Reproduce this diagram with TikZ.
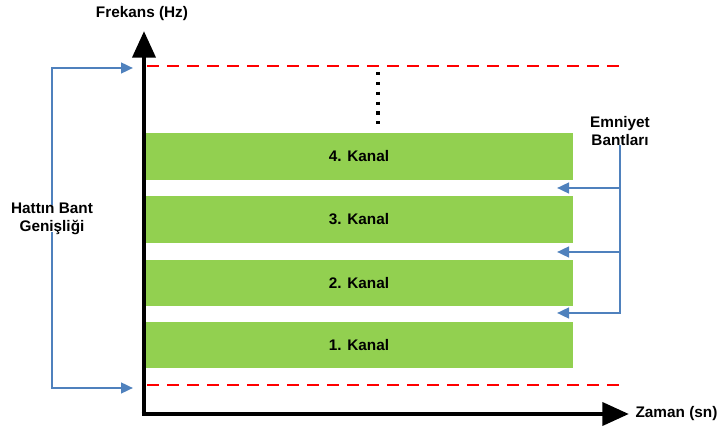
\documentclass[tikz,border=0pt]{standalone}
\usepackage{fontspec}
\setmainfont{Liberation Sans}
\usetikzlibrary{arrows.meta, positioning}
\definecolor{KanalGreen}{HTML}{92D050}
\definecolor{BandBlue}{HTML}{4F81BD}
\definecolor{LimitRed}{HTML}{FF0000}
\tikzset{
  kanalbox/.style={fill=KanalGreen, draw=none, minimum width=321pt, minimum height=35pt, inner sep=0pt, font=\fontsize{11.5}{13.5}\selectfont\bfseries},
  labeltext/.style={align=center, inner sep=1pt, font=\fontsize{11.5}{13.5}\selectfont\bfseries},
  axisarrow/.style={-{Triangle[length=20pt, width=17pt]}, line width=3.6pt, draw=black},
  bluearrow/.style={-{Triangle[length=9pt, width=8pt]}, line width=1.8pt, draw=BandBlue},
  limitline/.style={line width=2.2pt, draw=LimitRed, dash pattern=on 9pt off 6pt},
  dotline/.style={line width=2.4pt, draw=black, dash pattern=on 2.4pt off 5pt}
}

\begin{document}
\begin{tikzpicture}[x=0.75pt, y=-0.75pt]
\useasboundingbox (0,0) rectangle (718,434);
% channels
\node[kanalbox] (k4) at (359,156.5) {4. Kanal};
\node[kanalbox] (k3) at (359,219.5) {3. Kanal};
\node[kanalbox] (k2) at (359,283) {2. Kanal};
\node[kanalbox] (k1) at (359,345) {1. Kanal};
% band limits
\coordinate (topL) at (147,66);
\coordinate (topR) at (626,66);
\coordinate (botL) at (147,385);
\coordinate (botR) at (626,385);
\draw[limitline] (topL) -- (topR);
\draw[limitline] (botL) -- (botR);
\coordinate (dotA) at (378,72);
\coordinate (dotB) at (378,124);
\draw[dotline] (dotA) -- (dotB);
% axes
\coordinate (origin) at (144,414);
\coordinate (ytip) at (144,31);
\coordinate (xtip) at (629,414);
\draw[axisarrow] (origin) -- (ytip);
\draw[axisarrow] ([xshift=-1.8pt]origin) -- (xtip);
\node[labeltext] (frekans) at (142,14) {Frekans (Hz)};
\node[labeltext, anchor=west] (zaman) at (634,414) {Zaman (sn)};
% line bandwidth
\node[labeltext] (hat) at (52,219) {Hatt\i n Bant\\Geni\c sli\u gi};
\coordinate (hatTop) at (133,68);
\coordinate (hatBot) at (133,388);
\draw[bluearrow] ([yshift=-3pt]hat.north) |- (hatTop);
\draw[bluearrow] ([yshift=3pt]hat.south) |- (hatBot);
% guard bands
\node[labeltext] (emniyet) at (620,131) {Emniyet\\Bantlar\i};
\coordinate (g4) at (557,188);
\coordinate (g3) at (557,252);
\coordinate (g2) at (557,313);
\draw[bluearrow] ([yshift=2pt]emniyet.south) |- (g2);
\draw[bluearrow] (emniyet.south |- g3) -- (g3);
\draw[bluearrow] (emniyet.south |- g4) -- (g4);
\end{tikzpicture}
\end{document}
